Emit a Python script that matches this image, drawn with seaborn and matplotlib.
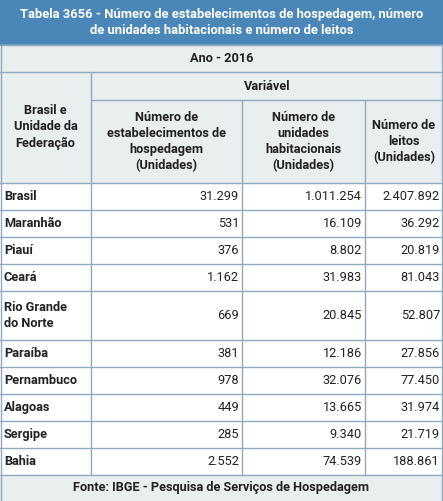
import matplotlib.pyplot as plt
import seaborn as sns
from matplotlib.patches import Rectangle

sns.set_theme(style="white")
plt.rcParams['font.family'] = ['Roboto', 'DejaVu Sans']

title = "Tabela 3656 - Número de estabelecimentos de hospedagem, número\nde unidades habitacionais e número de leitos"
states = ["Brasil", "Maranhão", "Piauí", "Ceará", "Rio Grande\ndo Norte", "Paraíba",
          "Pernambuco", "Alagoas", "Sergipe", "Bahia"]
estab = ["31.299", "531", "376", "1.162", "669", "381", "978", "449", "285", "2.552"]
unid = ["1.011.254", "16.109", "8.802", "31.983", "20.845", "12.186", "32.076", "13.665", "9.340", "74.539"]
leitos = ["2.407.892", "36.292", "20.819", "81.043", "52.807", "27.856", "77.450", "31.974", "21.719", "188.861"]
col_heads = ["Número de\nestabelecimentos de\nhospedagem\n(Unidades)",
             "Número de\nunidades\nhabitacionais\n(Unidades)",
             "Número de\nleitos\n(Unidades)"]

W, H = 443, 501
fig = plt.figure(figsize=(W / 100, H / 100), dpi=100)
ax = fig.add_axes([0, 0, 1, 1])
ax.set_xlim(0, W)
ax.set_ylim(H, 0)
ax.axis("off")

blue = "#4a86b8"
hdr = "#e9eeee"
line = "#8fa9bf"
txt = "#222222"
cols = [0, 91, 242, 365, 443]
fs = 9.2

ax.add_patch(Rectangle((0, 0), W, 45, color=blue))
ax.text(W / 2, 22.5, title, ha="center", va="center", color="white", fontsize=9.4,
        fontweight="bold", linespacing=1.35)
ax.add_patch(Rectangle((0, 45), W, 138, color=hdr))
ax.add_patch(Rectangle((0, 475), W, 26, color=hdr))

ax.text(W / 2, 58.5, "Ano - 2016", ha="center", va="center", fontsize=fs, fontweight="bold", color=txt)
ax.text((91 + 443) / 2, 86, "Variável", ha="center", va="center", fontsize=fs, fontweight="bold", color=txt)
ax.text(45.5, 127, "Brasil e\nUnidade da\nFederação", ha="center", va="center", fontsize=fs,
        fontweight="bold", color=txt, linespacing=1.3)
for i, h in enumerate(col_heads):
    ax.text((cols[i + 1] + cols[i + 2]) / 2, 141.5, h, ha="center", va="center", fontsize=fs,
            fontweight="bold", color=txt, linespacing=1.3)

# row boundaries
bounds = [183]
for s in states:
    bounds.append(bounds[-1] + (49 if "\n" in s else 27))

for j, s in enumerate(states):
    y0, y1 = bounds[j], bounds[j + 1]
    yc = (y0 + y1) / 2
    ax.text(4, yc, s, ha="left", va="center", fontsize=fs, fontweight="bold", color=txt, linespacing=1.3)
    for k, v in enumerate([estab[j], unid[j], leitos[j]]):
        ax.text(cols[k + 2] - 3, yc, v, ha="right", va="center", fontsize=fs, color=txt)

ax.text(W / 2, 488, "Fonte: IBGE - Pesquisa de Serviços de Hospedagem", ha="center", va="center",
        fontsize=fs, fontweight="bold", color=txt)

# grid lines
lw = 1.0
for y in [45, 72, 183] + bounds[1:]:
    ax.plot([0, W], [y, y], color=line, lw=lw)
ax.plot([91, W], [100, 100], color=line, lw=lw)
ax.plot([91, 91], [72, 475], color=line, lw=lw)
for x in cols[2:4]:
    ax.plot([x, x], [100, 475], color=line, lw=lw)
for x in [0.5, W - 0.5]:
    ax.plot([x, x], [45, 501], color=line, lw=lw)

fig.savefig("out.png", dpi=100)
